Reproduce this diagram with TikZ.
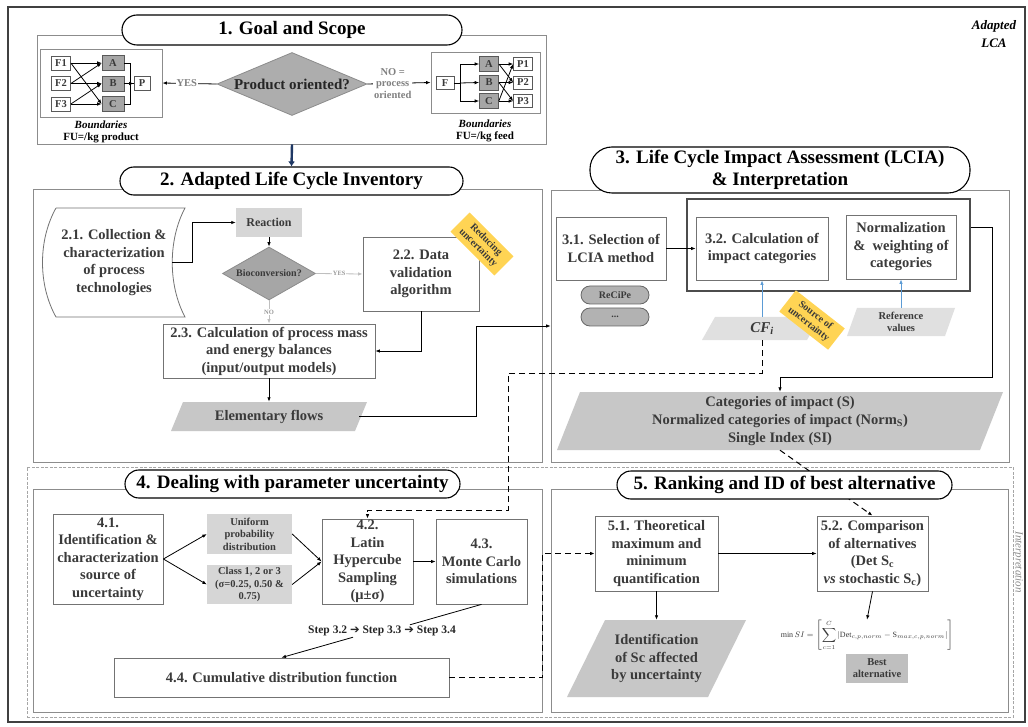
\documentclass[tikz,border=0pt]{standalone}
\usepackage{fontspec}
\setmainfont{Liberation Serif}
\newfontfamily\arrowfont{DejaVu Sans}
\usetikzlibrary{arrows.meta,shapes.geometric}
\newcommand\setfs[2]{\fontsize{#1}{#2}\selectfont}
\definecolor{tagyellow}{RGB}{255,212,84}
\definecolor{cfblue}{RGB}{91,155,213}
\definecolor{navyarrow}{RGB}{31,56,100}
\definecolor{boxtext}{RGB}{58,58,58}
\begin{document}
\begin{tikzpicture}[x=1pt,y=-1pt,
  frame/.style={draw=black!45, line width=0.8pt, inner sep=0pt},
  pill/.style={draw=black, line width=1.1pt, fill=white, rounded corners=14pt, inner sep=0pt, font=\bfseries\setfs{19}{22}, align=center},
  box/.style={draw=black!55, line width=0.8pt, fill=white, inner sep=0pt, align=center, text=boxtext, font=\bfseries\setfs{14.5}{17.5}},
  plain/.style={inner sep=0pt, align=center, text=boxtext, font=\bfseries\setfs{14.5}{17.5}},
  gbox/.style={fill=black!16, inner sep=0pt, align=center, text=boxtext, font=\bfseries\setfs{10.5}{12.5}},
  mini/.style={draw=black!65, line width=0.7pt, fill=white, inner sep=0pt, font=\bfseries\setfs{10.5}{12}, text=boxtext},
  minig/.style={mini, fill=black!35},
  bound/.style={draw=black!45, line width=0.8pt, inner sep=0pt},
  arr/.style={-{Latex[length=4.5pt,width=3.5pt]}, line width=0.8pt},
  garr/.style={arr, draw=black!25},
  darr/.style={arr, dash pattern=on 6pt off 4pt, line width=1pt},
  barr/.style={arr, draw=cfblue},
  tag/.style={fill=tagyellow, inner sep=0pt, align=center, text=boxtext, font=\bfseries\setfs{10}{11}, minimum width=62pt, minimum height=27pt},
  para/.style={fill=black!22},
  lpara/.style={fill=black!12},
  glabel/.style={text=black!50, font=\bfseries\setfs{10.5}{11.5}, align=center, fill=white, inner sep=1pt},
  tinylabel/.style={text=black!40, font=\bfseries\setfs{6.5}{7}, fill=white, inner sep=0.5pt},
]
% page and outer frame
\fill[white] (0,0) rectangle (1028,727);
\useasboundingbox (0,0) rectangle (1028,727);
\draw[line width=1.2pt, black!75] (8,7) rectangle (1025,722);
\node[font=\bfseries\itshape\setfs{13}{18}, align=center] (adapted) at (994,34) {Adapted\\LCA};

% ---------- 1. Goal and Scope ----------
\node[frame, minimum width=509pt, minimum height=109pt] (s1) at (291.5,89.5) {};
\node[pill, minimum width=340pt, minimum height=30pt, rounded corners=15pt] (t1) at (292,30) {1. Goal and Scope};

% product-oriented boundaries
\node[bound, minimum width=122pt, minimum height=68pt] (lb) at (101,83) {};
\node[mini, minimum width=19pt, minimum height=14pt] (f1) at (61,63) {F1};
\node[mini, minimum width=19pt, minimum height=14pt] (f2) at (61,83.5) {F2};
\node[mini, minimum width=19pt, minimum height=14pt] (f3) at (61,104) {F3};
\node[minig, minimum width=22pt, minimum height=15pt] (la) at (113,63) {A};
\node[minig, minimum width=22pt, minimum height=15pt] (lbb) at (113,83.5) {B};
\node[minig, minimum width=22pt, minimum height=15pt] (lc) at (113,104) {C};
\node[mini, minimum width=16pt, minimum height=14pt] (pp) at (142,83.5) {P};
\draw[arr] (f1.east) -- (la.west);
\draw[arr] (f1.east) -- (lc.west);
\draw[arr] (f2.east) -- (la.west);
\draw[arr] (f2.east) -- (lbb.west);
\draw[arr] (f3.east) -- (lbb.west);
\draw[arr] (f3.east) -- (lc.west);
\draw[line width=0.8pt] (la.east) -- ++(6,0) |- (pp.west);
\draw[line width=0.8pt] (lc.east) -- ++(6,0) |- (pp.west);
\draw[arr] (lbb.east) -- (pp.west);
\node[font=\bfseries\setfs{11}{12}, align=center] (lbt) at (101,132) {\textit{Boundaries}\\FU=/kg product};

% decision
\node[diamond, fill=black!32, draw=black!45, line width=0.8pt, inner sep=0pt, minimum width=150pt, minimum height=63pt] (dq) at (292,84) {};
\node[font=\bfseries\setfs{15}{17}, text=black!85] (dqt) at (dq.center) {Product oriented?};
\draw[arr] (dq.west) -- node[pos=0.55, glabel]{YES} (lb.east);

% process-oriented boundaries
\node[bound, minimum width=109pt, minimum height=61pt] (rb) at (485.5,82.5) {};
\draw[arr] (dq.east) -- node[pos=0.4, glabel]{NO =\\process\\oriented} (rb.west);
\node[mini, minimum width=18pt, minimum height=13pt] (rf) at (445,83) {F};
\node[minig, minimum width=19pt, minimum height=15pt] (ra) at (489,64) {A};
\node[minig, minimum width=19pt, minimum height=15pt] (rbb) at (489,82.5) {B};
\node[minig, minimum width=19pt, minimum height=15pt] (rc) at (489,101) {C};
\node[mini, minimum width=19pt, minimum height=13pt] (p1) at (523,64) {P1};
\node[mini, minimum width=19pt, minimum height=13pt] (p2) at (523,82.5) {P2};
\node[mini, minimum width=19pt, minimum height=13pt] (p3) at (523,101) {P3};
\coordinate (fs) at (460,83);
\draw[line width=0.8pt] (rf.east) -- (fs);
\draw[arr] (fs) |- (ra.west);
\draw[arr] (fs) |- (rc.west);
\draw[arr] (fs) -- (rbb.west);
\draw[arr] (ra.east) -- (p1.west);
\draw[arr] (rc.east) -- (p1.west);
\draw[arr] (ra.east) -- (p2.west);
\draw[arr] (rbb.east) -- (p2.west);
\draw[arr] (rbb.east) -- (p3.west);
\draw[arr] (rc.east) -- (p3.west);
\node[font=\bfseries\setfs{11}{12}, align=center] (rbt) at (485,131) {\textit{Boundaries}\\FU=/kg feed};

% ---------- 2. Adapted Life Cycle Inventory ----------
\node[frame, minimum width=509pt, minimum height=273pt] (s2) at (287.5,325.5) {};
\node[pill, minimum width=343pt, minimum height=28pt] (t2) at (291.5,181) {2. Adapted Life Cycle Inventory};
\draw[line width=2.4pt, navyarrow, -{Latex[length=5pt,width=7pt]}] (s1.south -| t1.south) -- (t2.north);

% 2.1 shape
\draw[draw=black!55, line width=0.8pt, fill=white]
  (56,208) -- (185,208) .. controls (168,240) and (168,285) .. (185,317)
  -- (56,317) .. controls (38,285) and (38,240) .. (56,208);
\node[plain, minimum width=116pt, minimum height=100pt] (n21) at (114,262.5) {2.1. Collection \&\\characterization\\of process\\technologies};

\node[gbox, minimum width=66pt, minimum height=29pt, font=\bfseries\setfs{12}{14}] (rx) at (269,222.5) {Reaction};
\draw[arr] (n21.east) -- ++(20,0) |- (rx.west);

\node[diamond, fill=black!35, draw=black!45, line width=0.8pt, inner sep=0pt, minimum width=93pt, minimum height=53pt] (bio) at (269,273.5) {};
\node[font=\bfseries\setfs{10}{11}, text=boxtext] (biot) at (bio.center) {Bioconversion?};
\draw[arr] (rx.south) -- (bio.north);

\node[box, minimum width=116pt, minimum height=74pt] (n22) at (421,274) {2.2. Data\\validation\\algorithm};
\node[tag, rotate=-45] (tagA) at (482,244) {Reducing\\uncertainty};
\node[box, minimum width=212pt, minimum height=54pt] (n23) at (269,351) {2.3. Calculation of process mass\\and energy balances\\(input/output models)};

\draw[garr] (bio.east) -- node[tinylabel]{YES} (n22.west);
\draw[garr] (bio.south) -- node[tinylabel]{NO} (n23.north);
\draw[arr] (n22.south) |- (n23.east);

\fill[para] (183,402) -- (367,402) -- (355,431) -- (171,431) -- cycle;
\node[plain, minimum width=180pt, minimum height=29pt] (ef) at (269,416.5) {Elementary flows};
\draw[arr] (n23.south) -- (ef.north);

% ---------- 3. LCIA & Interpretation ----------
\node[frame, minimum width=458pt, minimum height=272pt] (s3) at (780,326) {};
\draw[arr] (ef.east) -- ++(117,0) |- (s3.west);
\node[pill, minimum width=380pt, minimum height=46pt, rounded corners=22pt] (t3) at (780,170) {3. Life Cycle Impact Assessment (LCIA)\\\& Interpretation};

\node[box, minimum width=110pt, minimum height=63pt] (n31) at (611,248.5) {3.1. Selection of\\LCIA method};
\node[draw=black!70, line width=1.3pt, inner sep=0pt, minimum width=283pt, minimum height=92pt] (bb) at (828.5,245) {};
\node[box, minimum width=132pt, minimum height=63pt] (n32) at (762,248.5) {3.2. Calculation of\\impact categories};
\node[box, minimum width=110pt, minimum height=64pt] (nnorm) at (901,247) {Normalization\\\&\ \ weighting of\\categories};
\draw[arr] (n31.east) -- (n32.west);

\node[draw=black!60, fill=black!30, line width=0.8pt, rounded corners=9pt, inner sep=0pt, minimum width=68pt, minimum height=18pt, font=\bfseries\setfs{10}{11}, text=boxtext] (rc1) at (615,295) {ReCiPe};
\node[draw=black!60, fill=black!30, line width=0.8pt, rounded corners=9pt, inner sep=0pt, minimum width=68pt, minimum height=18pt, font=\bfseries\setfs{10}{11}, text=boxtext] (rc2) at (615,317) {...};

\fill[lpara] (715,317) -- (820,317) -- (807,340) -- (702,340) -- cycle;
\node[plain, minimum width=105pt, minimum height=23pt, font=\bfseries\itshape\setfs{15}{17}] (cf) at (762,328.5) {CF\textsubscript{\itshape i}};
\draw[barr] (cf.north) -- (n32.south);

\fill[lpara] (857,308) -- (955,308) -- (945,336) -- (847,336) -- cycle;
\node[plain, minimum width=98pt, minimum height=28pt, font=\bfseries\setfs{10.5}{12.5}] (rv) at (901,322) {Reference\\values};
\draw[barr] (rv.north) -- (nnorm.south);

\node[tag, rotate=-38] (tagB) at (812,320) {Source of\\uncertainty};

\fill[para] (580,392) -- (1003,392) -- (980,450) -- (557,450) -- cycle;
\node[plain, minimum width=400pt, minimum height=58pt, font=\bfseries\setfs{14.5}{18}] (res) at (780,421) {Categories of impact (S)\\Normalized categories of impact (Norm\textsubscript{S})\\Single Index (SI)};
\draw[arr] ([yshift=18pt]bb.east) -- ++(22,0) -- ++(0,150) -| (res.north);

% ---------- 4 & 5 : interpretation frame ----------
\node[draw=black!35, dash pattern=on 3pt off 1.5pt, line width=0.8pt, inner sep=0pt, minimum width=986pt, minimum height=250pt] (interp) at (520,592) {};
\node[rotate=-90, font=\itshape\setfs{11}{12}, text=black!45] (interpt) at (1018,562) {Interpretation};

\node[frame, minimum width=509pt, minimum height=223pt] (s4) at (287.5,600.5) {};
\node[frame, minimum width=457pt, minimum height=223pt] (s5) at (779.5,600.5) {};

% ---------- 4. Dealing with parameter uncertainty ----------
\node[box, minimum width=110pt, minimum height=90pt] (n41) at (108,559) {4.1.\\Identification \&\\characterization\\source of\\uncertainty};
\node[gbox, minimum width=85pt, minimum height=40pt] (unif) at (249.5,534) {Uniform\\probability\\distribution};
\node[gbox, minimum width=85pt, minimum height=39pt] (cls) at (249.5,584.5) {Class 1, 2 or 3\\(σ=0.25, 0.50 \&\\0.75)};
\node[box, minimum width=91pt, minimum height=85pt] (n42) at (367.5,561.5) {4.2.\\Latin\\Hypercube\\Sampling\\(μ±σ)};
\node[box, minimum width=91pt, minimum height=85pt] (n43) at (481.5,561.5) {4.3.\\Monte Carlo\\simulations};
\draw[arr] (n41.east) -- (unif.west);
\draw[arr] (n41.east) -- (cls.west);
\draw[arr] (unif.east) -- (n42.west);
\draw[arr] (cls.east) -- (n42.west);
\draw[arr] (n42.east) -- (n43.west);

\node[font=\bfseries\setfs{11.5}{13}, text=black!85, inner sep=1pt] (steps) at (382,631) {Step 3.2 {\arrowfont ➔} Step 3.3 {\arrowfont ➔} Step 3.4};
\node[box, minimum width=335pt, minimum height=39pt] (n44) at (281.5,677.5) {4.4. Cumulative distribution function};
\draw[line width=0.8pt] (n43.south) -- ([xshift=28pt]steps.north);
\draw[arr] ([xshift=-29pt]steps.south) -- (n44.north);

% ---------- 5. Ranking ----------
\node[box, minimum width=123pt, minimum height=75pt] (n51) at (656.5,553.5) {5.1. Theoretical\\maximum and\\minimum\\quantification};
\node[box, minimum width=111pt, minimum height=75pt] (n52) at (872.5,553.5) {5.2. Comparison\\of alternatives\\(Det S\textsubscript{c}\\\textit{vs} stochastic S\textsubscript{c})};
\draw[darr] (n44.east) -- ++(93,0) |- (n51.west);
\draw[arr] (n51.east) -- (n52.west);

% uncertainty feedback and result links (dashed)
\draw[darr] (cf.south) -- ++(0,33) -- ++(-254,0) -- ++(0,137) -| (n42.north);
\draw[darr] (res.south) -- (n52.north);

\node[pill, minimum width=335pt, minimum height=28pt] (t4) at (292.5,484) {4. Dealing with parameter uncertainty};
\node[pill, minimum width=335pt, minimum height=28pt] (t5) at (784.5,485) {5. Ranking and ID of best alternative};

\fill[para] (605,620) -- (746,620) -- (708,697) -- (567,697) -- cycle;
\node[plain, minimum width=140pt, minimum height=77pt] (ident) at (656.5,658.5) {Identification\\of Sc affected\\by uncertainty};
\draw[arr] (n51.south) -- (ident.north);

\node[inner sep=0pt, font=\setfs{8}{9}, text=boxtext] (fm) at (867,635)
  {$\displaystyle \min SI=\left[\sum_{c=1}^{C}\left|\mathrm{Det}_{c,p,norm}-\mathrm{S}_{max,c,p,norm}\right|\right]$};
\draw[arr] (n52.south) -- (fm.north);
\node[gbox, fill=black!25, minimum width=62pt, minimum height=29pt] (best) at (877,668) {Best\\alternative};
\end{tikzpicture}
\end{document}
